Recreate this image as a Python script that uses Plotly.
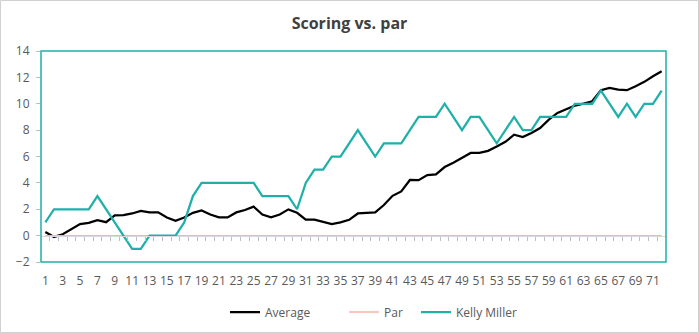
import plotly.graph_objects as go

# Hole numbers and scores relative to par
holes = list(range(1, 73))
average = [0.28, -0.1, 0.1, 0.46, 0.87, 0.97, 1.17, 1.02, 1.53, 1.55,
           1.68, 1.88, 1.76, 1.77, 1.38, 1.12, 1.38, 1.73, 1.91, 1.6,
           1.38, 1.38, 1.76, 1.94, 2.2, 1.6, 1.38, 1.6, 1.99, 1.73,
           1.22, 1.22, 1.05, 0.87, 1.0, 1.2, 1.68, 1.73, 1.77, 2.32,
           3.02, 3.35, 4.22, 4.2, 4.59, 4.64, 5.2, 5.53, 5.88, 6.27,
           6.28, 6.43, 6.76, 7.11, 7.65, 7.47, 7.78, 8.16, 8.79, 9.3,
           9.58, 9.86, 10.01, 10.19, 11.03, 11.2, 11.08, 11.03, 11.33, 11.66,
           12.09, 12.46]
par = [0] * 72
kelly_miller = [1, 2, 2, 2, 2, 2, 3, 2, 1, 0,
                -1, -1, 0, 0, 0, 0, 1, 3, 4, 4,
                4, 4, 4, 4, 4, 3, 3, 3, 3, 2,
                4, 5, 5, 6, 6, 7, 8, 7, 6, 7,
                7, 7, 8, 9, 9, 9, 10, 9, 8, 9,
                9, 8, 7, 8, 9, 8, 8, 9, 9, 9,
                9, 10, 10, 10, 11, 10, 9, 10, 9, 10,
                10, 11]
x_labels = list(range(1, 73, 2))
y_ticks = list(range(-2, 15, 2))

TEAL = "#1FB0AA"
SALMON = "#F4B5A3"
GREY_TXT = "#595959"
AXIS_GREY = "#BFBFBF"
FONT = "Segoe UI, Open Sans, Noto Sans, sans-serif"

W, H = 699, 333
L, R, T, B = 41, 33, 51, 71
y_min, y_max = -2, 14
pw = W - L - R
ph = H - T - B


def px_to_paper_x(px):
    return (px - L) / pw


def px_to_paper_y(py):
    return (H - B - py) / ph


fig = go.Figure()
fig.add_trace(go.Scatter(x=holes, y=average, name="Average", mode="lines",
                         line=dict(color="#000000", width=2.25), legend="legend"))
fig.add_trace(go.Scatter(x=holes, y=par, name="Par", mode="lines",
                         line=dict(color=SALMON, width=1.5), legend="legend2"))
fig.add_trace(go.Scatter(x=holes, y=kelly_miller, name="Kelly Miller", mode="lines",
                         line=dict(color=TEAL, width=2.25), legend="legend3"))

x_range = [0.5, len(holes) + 0.5]
# axis crossing at zero: paper fraction of y=0
zero_frac = (0 - y_min) / (y_max - y_min)

legend_style = dict(orientation="h", xanchor="left", yanchor="middle",
                    y=px_to_paper_y(312), font=dict(size=12, color=GREY_TXT),
                    bgcolor="rgba(0,0,0,0)")

fig.update_layout(
    width=W, height=H,
    margin=dict(l=L, r=R, t=T, b=B, autoexpand=False),
    paper_bgcolor="white", plot_bgcolor="white",
    font=dict(family=FONT, color=GREY_TXT, size=12),
    title=dict(text="<b>Scoring vs. par</b>", x=0.5, xanchor="center",
               y=1 - 23 / H, yanchor="middle",
               font=dict(family=FONT, size=16, color="#404040")),
    xaxis=dict(range=x_range, tickmode="array", tickvals=x_labels,
               ticktext=[str(v) for v in x_labels], showgrid=False,
               zeroline=False, showline=False, ticks="",
               ticklabelstandoff=10, automargin=False,
               tickfont=dict(size=12, color=GREY_TXT)),
    xaxis2=dict(range=x_range, overlaying="x", anchor="free",
                position=zero_frac, side="bottom", showgrid=False,
                zeroline=False, showline=True, linecolor="#D9D9D9", linewidth=1,
                tickmode="array", tickvals=[h + 0.5 for h in holes[:-1]],
                ticks="outside", ticklen=4, tickcolor=AXIS_GREY,
                showticklabels=False),
    yaxis=dict(range=[y_min, y_max], tickmode="array", tickvals=y_ticks,
               showgrid=False, zeroline=False, showline=False,
               ticks="outside", ticklen=4, tickcolor=AXIS_GREY,
               ticklabelstandoff=4, automargin=False,
               tickfont=dict(size=12, color=GREY_TXT)),
    showlegend=True,
    legend=dict(legend_style, x=px_to_paper_x(225)),
    legend2=dict(legend_style, x=px_to_paper_x(344)),
    legend3=dict(legend_style, x=px_to_paper_x(416)),
)

# dummy trace to bring the zero-crossing axis into existence
fig.add_trace(go.Scatter(x=[None], y=[None], xaxis="x2", showlegend=False,
                         hoverinfo="skip"))

shapes = [
    # plot area border
    dict(type="rect", xref="paper", yref="paper", x0=0, y0=0, x1=1, y1=1,
         line=dict(color=TEAL, width=1.5), layer="above"),
    # chart area border
    dict(type="rect", xref="paper", yref="paper",
         x0=-(L - 0.5) / pw, x1=1 + (R - 0.5) / pw,
         y0=-(B - 0.5) / ph, y1=1 + (T - 0.5) / ph,
         line=dict(color="#D0D0D0", width=1), layer="below"),
]
fig.update_layout(shapes=shapes)

fig.write_html("out.html")
